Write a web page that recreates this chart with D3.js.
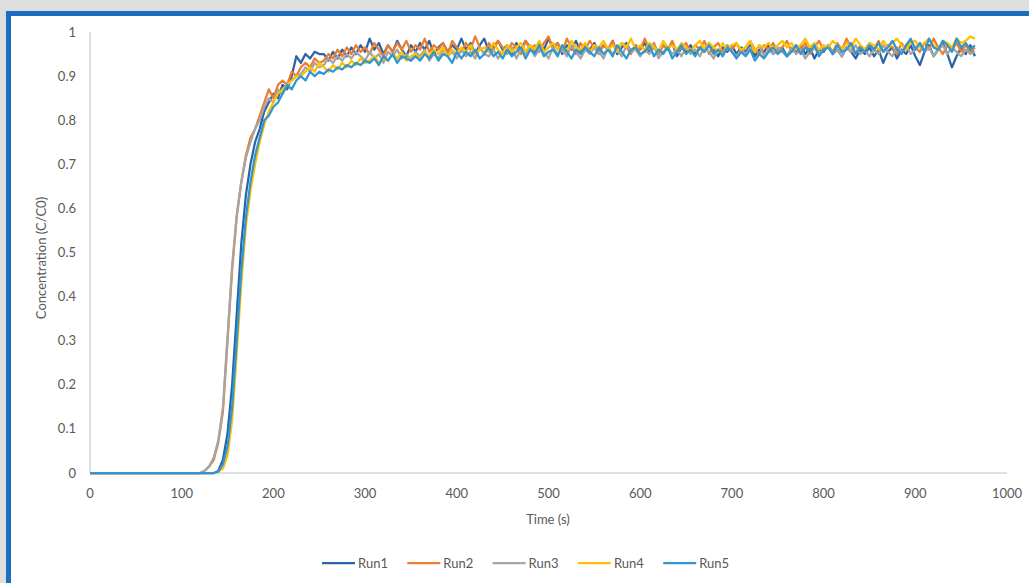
<!DOCTYPE html>
<html>
<head>
<meta charset="utf-8">
<script src="https://cdn.jsdelivr.net/npm/d3@7"></script>
<style>
  body { margin: 0; background: #dedede; }
  svg { display: block; font-family: Lato, "Open Sans", sans-serif; }
  .tick-label { fill: #595959; font-size: 13px; }
  .axis-title { fill: #595959; font-size: 13px; }
</style>
</head>
<body>
<svg id="chart" width="1029" height="583"></svg>
<script>
  // sampling: 0 and 100 s on the flat start, then every 5 s from 120 s to 965 s
  const TIME = [0, 100].concat(d3.range(120, 966, 5));

  const RUN1 = [0, 0,
    0, 0, 0, 0, .005, .03, .09, .2, .36, .52, .63, .70, .75, .78, .82, .84, .86, .85, .88, .87, .90, .945, .93, .95, .94, .955, .95,
    .95, .935, .955, .94, .96, .945, .965, .95, .97, .955,
    .985, .96, .975, .95, .97, .955, .98, .96, .945, .97,
    .955, .975, .96, .98, .95, .965, .975, .955, .97, .96,
    .985, .96, .975, .95, .97, .985, .955, .965, .98, .96,
    .97, .95, .975, .96, .98, .965, .955, .975, .96, .985,
    .965, .975, .95, .97, .96, .98, .955, .97, .96, .975,
    .955, .97, .96, .98, .95, .965, .975, .955, .97, .96,
    .975, .955, .965, .95, .97, .96, .975, .945, .965, .955,
    .97, .95, .965, .955, .975, .96, .945, .965, .955, .97,
    .95, .965, .955, .97, .945, .96, .955, .97, .95, .96,
    .965, .945, .96, .955, .97, .95, .965, .94, .96, .955,
    .97, .95, .96, .945, .965, .955, .94, .96, .95, .965,
    .945, .96, .93, .955, .965, .94, .96, .95, .97, .945,
    .925, .955, .97, .945, .96, .975, .95, .92, .945, .965,
    .95, .97, .945];

  const RUN2 = [0, 0,
    0, .005, .015, .03, .07, .14, .30, .46, .58, .66, .72, .76, .78, .81, .84, .87, .85, .88, .89, .88, .91, .90, .92, .93, .92, .94, .93,
    .935, .95, .94, .96, .945, .965, .95, .97, .955, .965,
    .95, .975, .96, .945, .97, .955, .975, .96, .98, .955,
    .97, .96, .985, .955, .97, .96, .975, .95, .98, .965,
    .955, .975, .96, .99, .965, .95, .975, .96, .98, .965,
    .955, .975, .965, .95, .98, .96, .97, .955, .975, .99,
    .96, .975, .955, .985, .965, .95, .975, .96, .98, .965,
    .95, .97, .96, .98, .955, .975, .965, .95, .97, .96,
    .985, .96, .975, .95, .97, .96, .98, .955, .965, .975,
    .955, .97, .96, .98, .95, .965, .975, .955, .97, .96,
    .975, .955, .965, .98, .96, .95, .97, .96, .975, .955,
    .965, .98, .955, .97, .96, .975, .95, .965, .98, .96,
    .97, .955, .975, .96, .985, .965, .95, .97, .96, .975,
    .96, .98, .955, .97, .965, .95, .975, .96, .98, .965,
    .955, .975, .96, .985, .965, .95, .97, .96, .975, .955,
    .97, .955, .965];

  const RUN3 = [0, 0,
    0, .005, .015, .035, .075, .15, .31, .47, .585, .66, .715, .75, .78, .80, .83, .85, .84, .87, .86, .88, .89, .90, .905, .92, .91, .93, .92,
    .925, .94, .93, .945, .935, .95, .94, .955, .945, .935,
    .955, .94, .95, .93, .955, .945, .96, .94, .95, .935,
    .955, .945, .96, .935, .95, .94, .96, .945, .955, .94,
    .96, .945, .955, .94, .965, .95, .945, .96, .94, .955,
    .95, .965, .94, .96, .95, .97, .945, .96, .955, .94,
    .965, .95, .96, .945, .97, .955, .94, .96, .95, .965,
    .955, .94, .965, .95, .96, .945, .97, .955, .96, .945,
    .96, .95, .97, .94, .955, .965, .95, .96, .945, .965,
    .95, .96, .945, .965, .955, .94, .96, .95, .97, .955,
    .945, .96, .95, .965, .955, .97, .945, .96, .95, .965,
    .955, .945, .965, .95, .96, .94, .955, .965, .95, .96,
    .97, .95, .96, .945, .965, .955, .97, .95, .96, .945,
    .96, .95, .97, .955, .945, .965, .955, .97, .95, .96,
    .975, .955, .965, .945, .96, .97, .95, .965, .955, .945,
    .96, .95, .955];

  const RUN4 = [0, 0,
    0, 0, 0, 0, .003, .01, .04, .12, .27, .43, .56, .64, .70, .75, .79, .82, .84, .86, .87, .88, .89, .90, .90, .91, .92, .91, .93,
    .92, .91, .925, .915, .93, .92, .935, .925, .94, .93,
    .935, .945, .93, .94, .935, .95, .94, .955, .935, .945,
    .95, .94, .955, .945, .96, .95, .965, .945, .96, .95,
    .965, .955, .97, .95, .96, .965, .955, .975, .96, .95,
    .97, .955, .965, .975, .955, .97, .96, .98, .955, .965,
    .975, .96, .97, .955, .98, .965, .96, .975, .955, .97,
    .965, .98, .96, .97, .955, .975, .965, .985, .96, .97,
    .96, .975, .965, .955, .98, .965, .97, .96, .975, .965,
    .955, .97, .98, .96, .975, .965, .955, .975, .96, .97,
    .975, .96, .965, .98, .955, .97, .965, .975, .96, .97,
    .98, .965, .975, .96, .97, .985, .965, .975, .96, .97,
    .965, .98, .97, .96, .975, .965, .985, .97, .96, .975,
    .97, .96, .98, .965, .975, .985, .97, .96, .975, .98,
    .965, .975, .985, .97, .96, .98, .975, .965, .985, .975,
    .98, .99, .985];

  const RUN5 = [0, 0,
    0, 0, 0, 0, .003, .02, .06, .15, .30, .46, .58, .66, .72, .76, .80, .81, .83, .84, .86, .88, .87, .89, .90, .89, .91, .90, .91,
    .905, .915, .91, .92, .915, .925, .92, .93, .925, .935,
    .93, .94, .925, .945, .935, .95, .93, .945, .94, .935,
    .945, .935, .95, .94, .955, .935, .95, .945, .93, .955,
    .94, .955, .945, .96, .94, .95, .965, .945, .955, .94,
    .96, .945, .955, .965, .94, .96, .95, .97, .945, .955,
    .96, .945, .97, .955, .94, .96, .95, .965, .955, .945,
    .965, .95, .96, .945, .97, .955, .94, .96, .965, .95,
    .955, .97, .945, .96, .95, .965, .94, .955, .97, .95,
    .96, .945, .965, .955, .97, .95, .96, .945, .965, .955,
    .94, .955, .945, .96, .935, .95, .94, .955, .965, .95,
    .96, .945, .955, .97, .95, .965, .955, .97, .945, .96,
    .965, .95, .97, .955, .96, .975, .95, .965, .955, .97,
    .96, .975, .955, .965, .98, .96, .95, .97, .985, .96,
    .975, .955, .985, .965, .96, .98, .97, .955, .985, .965,
    .975, .96, .97];

  const SERIES_NAMES = ["Run1", "Run2", "Run3", "Run4", "Run5"];
  const SERIES_VALUES = [RUN1, RUN2, RUN3, RUN4, RUN5];
  const COLORS = ["#2a64a6", "#ed7d31", "#a5a5a5", "#ffc000", "#2f97d1"];
  const X_TICKS = d3.range(0, 1001, 100);
  const Y_TICKS = d3.range(0, 11).map((d) => d / 10);

  const svg = d3.select("#chart");

  // panel frame
  svg.append("rect").attr("width", 1029).attr("height", 583).attr("fill", "#dedede");
  svg.append("rect")
    .attr("x", 8.5).attr("y", 13.5)
    .attr("width", 1040).attr("height", 600)
    .attr("fill", "#fff")
    .attr("stroke", "#1b6ec2")
    .attr("stroke-width", 5);

  const x = d3.scaleLinear().domain([0, 1000]).range([90, 1007]);
  const y = d3.scaleLinear().domain([0, 1]).range([473, 32]);

  // axis lines, no tick marks
  svg.append("line")
    .attr("x1", x(0)).attr("x2", x(0)).attr("y1", y(1)).attr("y2", y(0))
    .attr("stroke", "#bfbfbf").attr("stroke-width", 1);
  svg.append("line")
    .attr("x1", x(0)).attr("x2", x(1000)).attr("y1", y(0)).attr("y2", y(0))
    .attr("stroke", "#bfbfbf").attr("stroke-width", 1);

  svg.append("g").selectAll("text")
    .data(Y_TICKS)
    .join("text")
    .attr("class", "tick-label")
    .attr("x", 76)
    .attr("y", (d) => y(d))
    .attr("dy", "0.35em")
    .attr("text-anchor", "end")
    .text((d) => d3.format("~g")(d));

  svg.append("g").selectAll("text")
    .data(X_TICKS)
    .join("text")
    .attr("class", "tick-label")
    .attr("x", (d) => x(d))
    .attr("y", 493)
    .attr("dy", "0.35em")
    .attr("text-anchor", "middle")
    .text((d) => d);

  svg.append("text")
    .attr("class", "axis-title")
    .attr("transform", "translate(46,258) rotate(-90)")
    .attr("text-anchor", "middle")
    .text("Concentration (C/C0)");

  svg.append("text")
    .attr("class", "axis-title")
    .attr("x", 548).attr("y", 519)
    .attr("dy", "0.35em")
    .attr("text-anchor", "middle")
    .text("Time (s)");

  const line = d3.line()
    .x((d, i) => x(TIME[i]))
    .y((d) => y(d));

  svg.append("g").selectAll("path")
    .data(SERIES_VALUES)
    .join("path")
    .attr("fill", "none")
    .attr("stroke", (d, i) => COLORS[i])
    .attr("stroke-width", 2.25)
    .attr("stroke-linejoin", "round")
    .attr("d", line);

  // legend
  const legend = svg.append("g").selectAll("g")
    .data(SERIES_NAMES)
    .join("g")
    .attr("transform", (d, i) => `translate(${322 + i * 85.3},563)`);
  legend.append("line")
    .attr("x1", 0).attr("x2", 33)
    .attr("stroke", (d, i) => COLORS[i])
    .attr("stroke-width", 2.25);
  legend.append("text")
    .attr("class", "tick-label")
    .attr("x", 36)
    .attr("dy", "0.35em")
    .text((d) => d);
</script>
</body>
</html>
